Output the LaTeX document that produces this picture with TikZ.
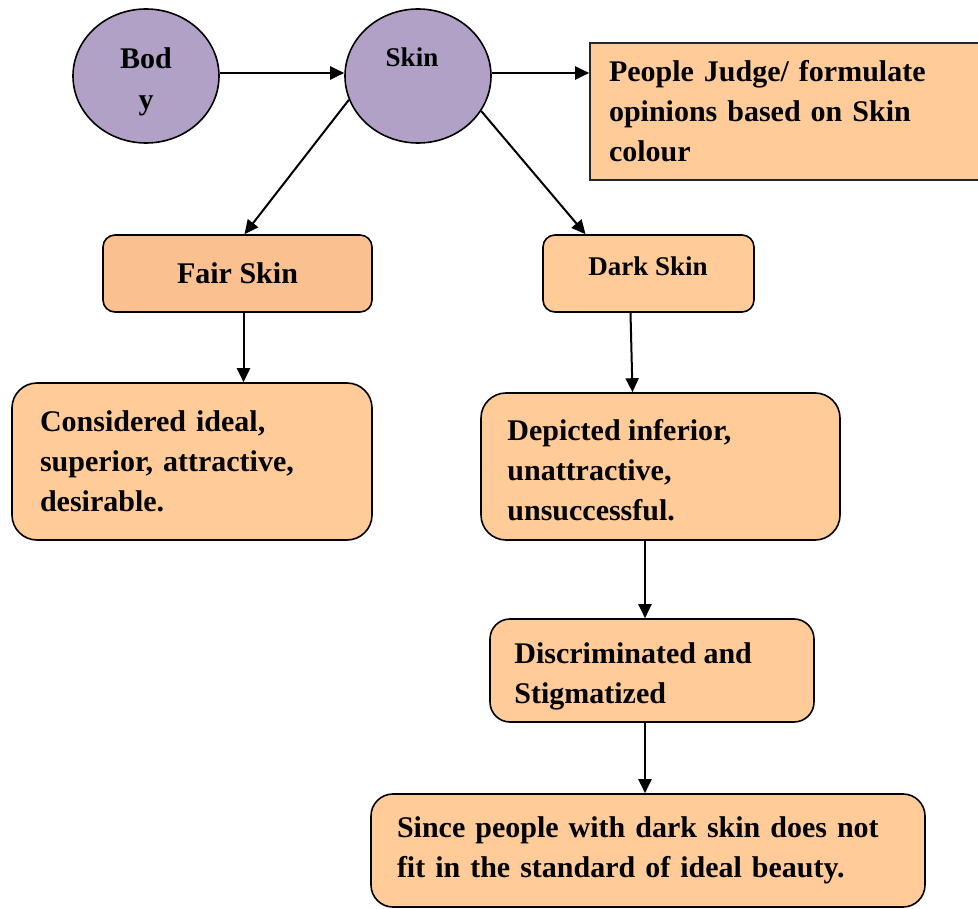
\documentclass[tikz,border=0pt]{standalone}
\usepackage{fontspec}
\setmainfont{Liberation Serif}
\usetikzlibrary{shapes.geometric,arrows.meta}
\definecolor{lilac}{HTML}{B2A1C7}
\definecolor{peach}{HTML}{FFCC99}
\definecolor{peachdeep}{HTML}{FAC090}
\begin{document}
\begin{tikzpicture}[x=1pt,y=-1pt,
  txt/.style={font=\bfseries\fontsize{30}{40}\selectfont, text=black},
  txtsmall/.style={font=\bfseries\fontsize{27}{36}\selectfont, text=black},
  bubble/.style={ellipse, draw=black, line width=1.6pt, fill=lilac,
    minimum width=146pt, minimum height=134pt, inner sep=0pt},
  card/.style={rectangle, draw=black, line width=1.6pt, fill=peach,
    rounded corners=#1, inner sep=0pt, txt, align=left},
  card/.default=22pt,
  plaincard/.style={rectangle, draw=black!85, line width=1.6pt, fill=peach,
    inner sep=0pt, txt, align=left},
  boxtext/.style={txt, align=left, anchor=west, inner sep=0pt},
  link/.style={line width=2pt, -{Triangle[length=14pt,width=13pt]}}
]
\clip (0,0) rectangle (978,909);
\fill[white] (0,0) rectangle (978,909);

% top row
\node[bubble] (body) at (146,76) {};
\node[txt, align=center] (bodylabel) at (146,82) {Bod\\[1pt]y};
\node[bubble] (skin) at (418,76) {};
\node[txtsmall] (skinlabel) at (412,57) {Skin};
\node[plaincard, minimum width=395pt, minimum height=137pt, text width=357pt]
  (judge) at (787.5,111.5) {People Judge/ formulate\\opinions based on Skin\\colour};

% skin tone branches
\node[card=12pt, fill=peachdeep, minimum width=269pt, minimum height=77pt, align=center]
  (fair) at (237.5,273.5) {Fair Skin};
\node[card=12pt, minimum width=211pt, minimum height=77pt] (dark) at (648.5,273.5) {};
\node[txtsmall] (darklabel) at (648,266) {Dark Skin};

% outcomes
\node[card=25pt, minimum width=360pt, minimum height=157pt, text width=304pt]
  (cons) at (192,461.5) {Considered ideal,\\superior, attractive,\\desirable.};
\node[card=25pt, minimum width=359pt, minimum height=147pt] (dep) at (660.5,466.5) {};
\node[boxtext] (deplabel) at ([xshift=27pt,yshift=-4pt]dep.west)
  {Depicted inferior,\\unattractive,\\unsuccessful.};
\node[card=20pt, minimum width=324pt, minimum height=103pt] (disc) at (652,670.5) {};
\node[boxtext] (disclabel) at ([xshift=25pt,yshift=-6pt]disc.west)
  {Discriminated and\\Stigmatized};
\node[card=22pt, minimum width=554pt, minimum height=113pt, text width=502pt]
  (since) at (648,850.5) {Since people with dark skin does not\\fit in the standard of ideal beauty.};

% connectors
\draw[link] ([yshift=3pt]body.east) -- ([yshift=3pt]skin.west);
\draw[link] ([yshift=3pt]skin.east) -- ([yshift=3pt]skin.east -| judge.west);
\draw[link] (skin.199) -- ([xshift=7pt]fair.north);
\draw[link] (skin.331) -- ([xshift=-63pt]dark.north);
\draw[link] ([xshift=6pt]fair.south) -- ([xshift=6pt]fair.south |- cons.north);
\draw[link] ([xshift=-18pt]dark.south) -- ([xshift=-28pt]dep.north);
\draw[link] ([xshift=-15.5pt]dep.south) -- ([xshift=-15.5pt]dep.south |- disc.north);
\draw[link] ([xshift=-7pt]disc.south) -- ([xshift=-7pt]disc.south |- since.north);
\end{tikzpicture}
\end{document}
